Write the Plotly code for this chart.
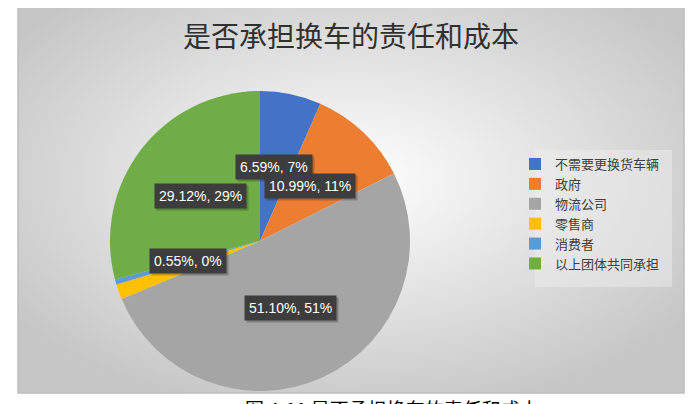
import base64

import plotly.graph_objects as go

# the page puts the figure 8px in from the top-left corner
OFF = 8
W, H = 693 - OFF, 404 - OFF

title_text = "是否承担换车的责任和成本"
caption_text = "图 4-11 是否承担换车的责任和成本"

labels = ["不需要更换货车辆", "政府", "物流公司", "零售商", "消费者", "以上团体共同承担"]
values = [6.59, 10.99, 51.10, 1.65, 0.55, 29.12]
colors = ["#4472C4", "#ED7D31", "#A5A5A5", "#FFC000", "#5B9BD5", "#70AD47"]

# data labels shown on the chart (Excel "value, percent"), with their box centres in px
label_texts = ["6.59%, 7%", "10.99%, 11%", "51.10%, 51%", "0.55%, 0%", "29.12%, 29%"]
label_pos = [(274, 167), (310, 186), (290, 308), (188, 261), (200, 196)]


def px(x, y):
    # screen px -> paper coords
    return (x - OFF) / W, 1 - (y - OFF) / H


# radial gradient background of the chart area
svg = (
    '<svg xmlns="http://www.w3.org/2000/svg" width="666" height="388" preserveAspectRatio="none">'
    '<defs><radialGradient id="g" cx="0.5" cy="0.45" r="0.62">'
    '<stop offset="0" stop-color="#ffffff"/>'
    '<stop offset="1" stop-color="#c6c6c6"/>'
    '</radialGradient></defs>'
    '<rect width="666" height="388" fill="url(#g)"/></svg>'
)
bg_uri = "data:image/svg+xml;base64," + base64.b64encode(svg.encode()).decode()

x0, y0 = px(18, 5)
x1, y1 = px(684, 393)

fig = go.Figure()
fig.add_trace(go.Pie(
    labels=labels, values=values, sort=False, direction="clockwise", rotation=0,
    marker=dict(colors=colors, line=dict(width=0)),
    textinfo="none", hoverinfo="label+value",
    domain=dict(x=[px(110, 0)[0], px(410, 0)[0]], y=[px(0, 391)[1], px(0, 91)[1]]),
))

tx, ty = px(351, 35)
cx, cy = px(243, 393)
annotations = [
    dict(text=title_text, x=tx, y=ty, xref="paper", yref="paper",
         xanchor="center", yanchor="middle", showarrow=False,
         font=dict(family="Noto Sans CJK SC", size=28, color="#303030")),
    dict(text=caption_text, x=cx, y=cy, xref="paper", yref="paper",
         xanchor="left", yanchor="top", showarrow=False,
         font=dict(family="Noto Sans CJK SC", size=19, color="#000000")),
]
for t, (lx, ly) in zip(label_texts, label_pos):
    ax, ay = px(lx + 2, ly + 2)
    annotations.append(dict(text=t, x=ax, y=ay, xref="paper", yref="paper",
                            xanchor="center", yanchor="middle", showarrow=False,
                            bgcolor="rgba(0,0,0,0.22)", borderpad=4,
                            font=dict(family="Liberation Sans", size=14, color="rgba(0,0,0,0)")))
    ax, ay = px(lx, ly)
    annotations.append(dict(text=t, x=ax, y=ay, xref="paper", yref="paper",
                            xanchor="center", yanchor="middle", showarrow=False,
                            bgcolor="#3d3d3d", borderpad=4,
                            font=dict(family="Liberation Sans", size=14, color="#ffffff")))

lx0, ly0 = px(535, 150)
lx1, ly1 = px(672, 287)
gx, gy = px(515, 149)

fig.update_layout(
    width=W, height=H,
    margin=dict(l=0, r=0, t=0, b=0),
    paper_bgcolor="#ffffff",
    images=[dict(source=bg_uri, xref="paper", yref="paper", x=x0, y=y0,
                 sizex=x1 - x0, sizey=y0 - y1, xanchor="left", yanchor="top",
                 sizing="stretch", layer="below")],
    shapes=[
        dict(type="rect", xref="paper", yref="paper", x0=x0, y0=y1, x1=x1, y1=y0,
             line=dict(color="#bdbdbd", width=1.5), layer="below"),
        dict(type="rect", xref="paper", yref="paper", x0=lx0, y0=ly1, x1=lx1, y1=ly0,
             line=dict(width=0), fillcolor="rgba(240,240,240,0.45)", layer="below"),
    ],
    annotations=annotations,
    showlegend=True,
    legend=dict(x=gx, y=gy, xanchor="left", yanchor="top",
                bgcolor="rgba(0,0,0,0)",
                font=dict(family="Noto Sans CJK SC", size=13, color="#404040")),
)

fig.write_html("out.html")
